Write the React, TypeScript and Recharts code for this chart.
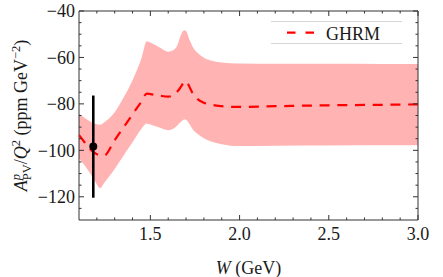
import React from 'react';
import {
  ComposedChart, Area, Line, Scatter, ErrorBar, XAxis, YAxis, ReferenceArea, Legend,
} from 'recharts';

// ---- data ----
const W = [1.10, 1.13, 1.16, 1.19, 1.22, 1.24, 1.30, 1.35, 1.40, 1.45, 1.48, 1.50, 1.55, 1.60, 1.63, 1.65, 1.67, 1.69, 1.70, 1.72, 1.74, 1.76, 1.80, 1.85, 1.90, 1.95, 2.00, 2.20, 2.50, 2.80, 3.00];
const CENTRAL = [-93.4, -96.4, -99.3, -101.2, -102.2, -102.3, -95.6, -90.1, -84.5, -79.0, -75.6, -75.8, -76.4, -76.9, -76.2, -74.8, -72.8, -70.6, -70.2, -72.8, -75.8, -77.6, -79.5, -80.5, -81.0, -81.3, -81.3, -81.0, -80.6, -80.4, -80.2];
const LOWER = [-103.5, -106.3, -109.6, -113.3, -116.3, -114.2, -108.0, -102.2, -96.5, -90.7, -88.4, -88.9, -90.2, -91.3, -90.6, -89.4, -87.8, -86.7, -86.8, -88.8, -91.2, -92.6, -94.8, -96.4, -97.4, -98.0, -98.1, -98.0, -97.9, -97.8, -97.8];
const UPPER = [-84.3, -86.0, -87.5, -88.6, -89.0, -88.0, -83.6, -77.3, -69.8, -60.3, -53.0, -53.6, -55.6, -57.5, -56.8, -55.0, -50.5, -48.3, -48.6, -52.5, -55.8, -57.7, -60.1, -61.5, -62.2, -62.5, -62.6, -62.7, -62.7, -62.8, -62.8];

const POINT_W = [1.18];
const POINT_Y = [-98.4];
const POINT_ERR = [22];

const X_TICKS = [1.2, 1.3, 1.4, 1.5, 1.6, 1.7, 1.8, 1.9, 2.0, 2.1, 2.2, 2.3, 2.4, 2.5, 2.6, 2.7, 2.8, 2.9, 3.0];
const Y_TICKS = [-125, -120, -115, -110, -105, -100, -95, -90, -85, -80, -75, -70, -65, -60, -55, -50, -45, -40];
const SERIES_NAME = 'GHRM';

const tableData = W.map((w, i) => ({ w, c: CENTRAL[i], band: [LOWER[i], UPPER[i]] }));
const pointData = POINT_W.map((w, i) => ({ w, y: POINT_Y[i], err: POINT_ERR[i] }));

// ---- layout ----
const CW = 443;
const CH = 277;
const MARGIN = { top: 11, right: 25, left: 0, bottom: 0 };
const YAXIS_W = 79;
const XAXIS_H = 57;
const PLOT_TOP = MARGIN.top;
const PLOT_RIGHT = CW - MARGIN.right;
const FONT = "'Liberation Serif', 'Times New Roman', serif";
const AXIS_COLOR = '#333';
const TEXT_COLOR = '#1a1a1a';

const isMajorX = (v: number) => Math.abs(v * 2 - Math.round(v * 2)) < 1e-6;
const isMajorY = (v: number) => Math.abs(v / 20 - Math.round(v / 20)) < 1e-6;
const fmtY = (v: number) => (v < 0 ? '\u2212' + Math.abs(v) : String(v));

const XTick = (props: any) => {
  const { x, y, payload } = props;
  const v = payload.value as number;
  const major = isMajorX(v);
  const len = major ? 5 : 2.5;
  return (
    <g>
      <line x1={x} x2={x} y1={y} y2={y - len} stroke={AXIS_COLOR} strokeWidth={1} />
      <line x1={x} x2={x} y1={PLOT_TOP} y2={PLOT_TOP + len} stroke={AXIS_COLOR} strokeWidth={1} />
      {major && (
        <text x={x} y={y + 19.5} textAnchor="middle" fontSize={18} fontFamily={FONT} fill={TEXT_COLOR}>
          {v.toFixed(1)}
        </text>
      )}
    </g>
  );
};

const YTick = (props: any) => {
  const { x, y, payload } = props;
  const v = payload.value as number;
  const major = isMajorY(v);
  const len = major ? 5 : 2.5;
  return (
    <g>
      <line x1={x} x2={x + len} y1={y} y2={y} stroke={AXIS_COLOR} strokeWidth={1} />
      <line x1={PLOT_RIGHT - len} x2={PLOT_RIGHT} y1={y} y2={y} stroke={AXIS_COLOR} strokeWidth={1} />
      {major && (
        <text x={x - 4} y={y} dy="0.35em" textAnchor="end" fontSize={18} fontFamily={FONT} fill={TEXT_COLOR}>
          {fmtY(v)}
        </text>
      )}
    </g>
  );
};

const YLabel = () => {
  const cx = 27;
  const cy = 115.5;
  return (
    <text x={cx} y={cy} transform={`rotate(-90 ${cx} ${cy})`} textAnchor="middle" fontSize={18} fontFamily={FONT} fill={TEXT_COLOR}>
      <tspan fontStyle="italic">A</tspan>
      <tspan fontStyle="italic" fontSize={12.5} dy={-7}>p</tspan>
      <tspan fontSize={12.5} dx={-6.3} dy={11}>PV</tspan>
      <tspan dy={-4}>/</tspan>
      <tspan fontStyle="italic">Q</tspan>
      <tspan fontSize={12.5} dy={-7}>2</tspan>
      <tspan dy={7}>{'\u00a0(ppm GeV'}</tspan>
      <tspan fontSize={12.5} dy={-7}>{'\u22122'}</tspan>
      <tspan dy={7}>)</tspan>
    </text>
  );
};

const XLabel = () => (
  <text x={248.5} y={273.5} textAnchor="middle" fontSize={18} fontFamily={FONT} fill={TEXT_COLOR}>
    <tspan fontStyle="italic">W</tspan>
    <tspan>{'\u00a0(GeV)'}</tspan>
  </text>
);

const LegendBox = () => (
  <svg width={131} height={23} style={{ display: 'block' }}>
    <line x1={0} x2={131} y1={0.5} y2={0.5} stroke="#d6d6d6" strokeWidth={1} />
    <line x1={0} x2={131} y1={22.5} y2={22.5} stroke="#d6d6d6" strokeWidth={1} />
    <line x1={16} x2={44} y1={11.7} y2={11.7} stroke="#ff0000" strokeWidth={2.2} strokeDasharray="8.5 10" />
    <text x={55} y={18.5} fontSize={18} fontFamily={FONT} fill={TEXT_COLOR}>{SERIES_NAME}</text>
  </svg>
);

export default function App() {
  return (
    <div style={{ position: 'absolute', left: 0, top: 0, width: CW, height: CH, background: '#fff' }}>
      <ComposedChart width={CW} height={CH} data={tableData} margin={MARGIN}>
        <XAxis
          dataKey="w"
          type="number"
          domain={[1.1, 3.0]}
          allowDataOverflow
          ticks={X_TICKS}
          interval={0}
          tickSize={0}
          tickMargin={0}
          axisLine={false}
          tickLine={false}
          tick={<XTick />}
          height={XAXIS_H}
          label={<XLabel />}
        />
        <YAxis
          type="number"
          domain={[-130, -40]}
          allowDataOverflow
          ticks={Y_TICKS}
          interval={0}
          tickSize={0}
          tickMargin={0}
          axisLine={false}
          tickLine={false}
          tick={<YTick />}
          width={YAXIS_W}
          label={<YLabel />}
        />
        <Area
          dataKey="band"
          type="monotone"
          fill="#ffb3b3"
          fillOpacity={1}
          stroke="none"
          isAnimationActive={false}
          legendType="none"
        />
        <Line
          dataKey="c"
          name={SERIES_NAME}
          type="monotone"
          stroke="#ff0000"
          strokeWidth={2.2}
          strokeDasharray="10 7.7"
          dot={false}
          activeDot={false}
          isAnimationActive={false}
        />
        <Scatter
          data={pointData}
          dataKey="y"
          fill="#000"
          isAnimationActive={false}
          legendType="none"
          shape={(p: any) => <circle cx={p.cx} cy={p.cy} r={4} fill="#000" />}
        >
          <ErrorBar dataKey="err" direction="y" width={0} stroke="#000" strokeWidth={2.6} isAnimationActive={false} />
        </Scatter>
        <ReferenceArea x1={1.1} x2={3.0} y1={-130} y2={-40} fill="none" stroke={AXIS_COLOR} strokeWidth={1} fillOpacity={0} />
        <Legend
          layout="horizontal"
          verticalAlign="middle"
          align="center"
          wrapperStyle={{ left: 271, top: 21, width: 131, height: 23 }}
          content={() => <LegendBox />}
        />
      </ComposedChart>
    </div>
  );
}
